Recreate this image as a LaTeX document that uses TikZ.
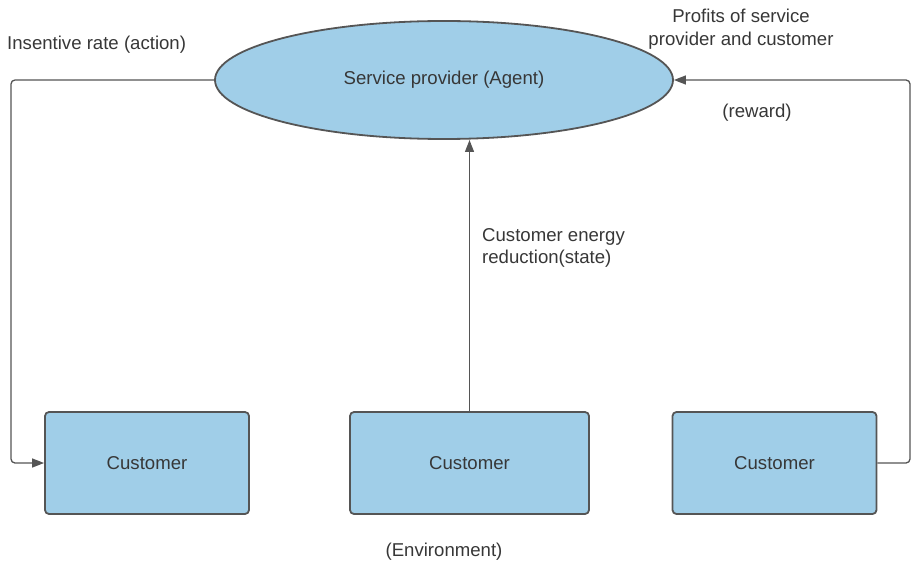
\documentclass[tikz,border=0pt]{standalone}
\usepackage{fontspec}
\setmainfont{Liberation Sans}
\usetikzlibrary{shapes.geometric,arrows.meta}
\definecolor{boxfill}{RGB}{160,206,232}
\definecolor{edgegray}{RGB}{85,85,85}
\definecolor{txt}{RGB}{55,55,55}
\begin{document}
\begin{tikzpicture}[x=1pt,y=-1pt,
  every node/.style={font=\fontsize{18.6}{22.5}\selectfont, text=txt},
  custbox/.style={draw=edgegray, line width=1.8pt, fill=boxfill, rounded corners=4pt, minimum width=204pt, minimum height=102pt, inner sep=0pt},
  conn/.style={draw=edgegray, line width=1.3pt, rounded corners=4pt, -{Triangle[length=12pt,width=9pt]}},
  lbl/.style={inner sep=0pt}
]
\useasboundingbox (0,0) rectangle (912,564);
\node[ellipse, draw=edgegray, line width=1.8pt, fill=boxfill, minimum width=458pt, minimum height=118pt, inner sep=0pt] (agent) at (444,80) {Service provider (Agent)};
\node[custbox] (c1) at (147,463) {Customer};
\node[custbox, minimum width=239pt] (c2) at (469.5,463) {Customer};
\node[custbox] (c3) at (774.5,463) {Customer};
\coordinate (l1) at (11,80);
\coordinate (l2) at (11,463);
\coordinate (r1) at (910,463);
\coordinate (r2) at (910,80);
\draw[conn] (agent.west) -- (l1) -- (l2) -- (c1.west);
\draw[conn] (c3.east) -- (r1) -- (r2) -- (agent.east);
\draw[conn, rounded corners=0pt] (c2.north) -- (c2.north |- 0,140);
\node[lbl, anchor=west] (t1) at (7,45) {Insentive rate (action)};
\node[lbl, align=center] (t2) at (741,29) {Profits of service\\provider and customer};
\node[lbl] (t3) at (757,113) {(reward)};
\node[lbl, align=left, anchor=west] (t4) at (482,248) {Customer energy\\reduction(state)};
\node[lbl] (t5) at (444,552) {(Environment)};
\end{tikzpicture}
\end{document}
